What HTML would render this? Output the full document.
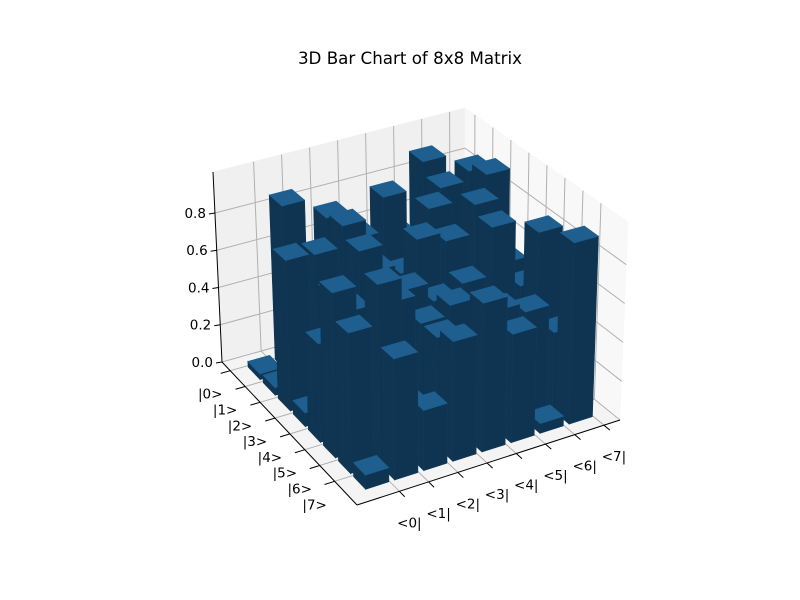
<!DOCTYPE html>
<html><head><meta charset="utf-8"><style>
html,body{margin:0;padding:0;background:#fff;}
svg{display:block;font-family:"DejaVu Sans","Liberation Sans",sans-serif;}
</style></head><body>
<svg id="chart" width="800" height="600" viewBox="0 0 800 600" xmlns="http://www.w3.org/2000/svg">
<rect width="800" height="600" fill="#ffffff"/>
<text x="410" y="64" font-size="16.7" text-anchor="middle" fill="#000">3D Bar Chart of 8x8 Matrix</text>
<g id="panes"></g><g id="grid"></g><g id="axes"></g><g id="bars"></g>
</svg>
<script>
const rowLabels = ['|0>','|1>','|2>','|3>','|4>','|5>','|6>','|7>'];
const colLabels = ['<0|','<1|','<2|','<3|','<4|','<5|','<6|','<7|'];
const zTicks = [0.0, 0.2, 0.4, 0.6, 0.8];
const row0 = [0.03,0.88,0.45,0.60,0.30,0.55,0.92,0.40];
const row1 = [0.04,0.60,0.85,0.70,0.88,0.20,0.85,0.90];
const row2 = [0.78,0.77,0.88,0.60,0.55,0.85,0.40,0.95];
const row3 = [0.07,0.63,0.82,0.10,0.80,0.75,0.90,0.55];
const row4 = [0.50,0.62,0.35,0.65,0.55,0.60,0.85,0.50];
const row5 = [0.83,0.45,0.70,0.55,0.60,0.55,0.20,0.85];
const row6 = [0.70,0.90,0.23,0.55,0.40,0.60,0.55,0.40];
const row7 = [0.07,0.60,0.30,0.60,0.75,0.55,0.05,0.93];
const values = [row0,row1,row2,row3,row4,row5,row6,row7];

const NS='http://www.w3.org/2000/svg';
const F={L:[222,362],B:[357,505],R:[620,420],K:[465,294]};
const T={L:[213,172],B:[354,296],R:[628,222],K:[465,108]};
const XMIN=-0.55,XMAX=8.5,YMIN=-1.45,YMAX=7.55,ZMAX=1.02;
function bil(C,u,v){
  const a=(1-u)*(1-v),b=u*(1-v),c=u*v,d=(1-u)*v;
  return [C.L[0]*a+C.B[0]*b+C.R[0]*c+C.K[0]*d, C.L[1]*a+C.B[1]*b+C.R[1]*c+C.K[1]*d];
}
function P(x,y,z){
  const u=(x-XMIN)/(XMAX-XMIN), v=(y-YMIN)/(YMAX-YMIN), w=z/ZMAX;
  const f=bil(F,u,v), t=bil(T,u,v);
  return [f[0]+(t[0]-f[0])*w, f[1]+(t[1]-f[1])*w];
}
function pts(a){return a.map(p=>p[0].toFixed(1)+','+p[1].toFixed(1)).join(' ');}
function poly(g,a,fill,stroke,name){
  const e=document.createElementNS(NS,'polygon');
  e.setAttribute('points',pts(a));e.setAttribute('fill',fill);
  e.setAttribute('stroke',stroke);e.setAttribute('stroke-width','0.6');
  
  
  g.appendChild(e);return e;
}
function line(g,a,b,col,w,name){
  const e=document.createElementNS(NS,'line');
  e.setAttribute('x1',a[0]);e.setAttribute('y1',a[1]);e.setAttribute('x2',b[0]);e.setAttribute('y2',b[1]);
  e.setAttribute('stroke',col);e.setAttribute('stroke-width',w);
  
  
  g.appendChild(e);
}
function text(g,p,s,anchor,name){
  const e=document.createElementNS(NS,'text');
  e.setAttribute('x',p[0]);e.setAttribute('y',p[1]);e.setAttribute('font-size','13.5');
  e.setAttribute('text-anchor',anchor);e.setAttribute('fill','#000');e.textContent=s;
  
  
  g.appendChild(e);
}
const gp=document.getElementById('panes'),gg=document.getElementById('grid'),ga=document.getElementById('axes'),gb=document.getElementById('bars');
poly(gp,[P(XMIN,YMIN,0),P(XMIN,YMAX,0),P(XMIN,YMAX,ZMAX),P(XMIN,YMIN,ZMAX)],'#f0f0f0','#f0f0f0','left-pane');
poly(gp,[P(XMIN,YMAX,0),P(XMAX,YMAX,0),P(XMAX,YMAX,ZMAX),P(XMIN,YMAX,ZMAX)],'#f8f8f8','#f8f8f8','right-pane');
poly(gp,[P(XMIN,YMIN,0),P(XMAX,YMIN,0),P(XMAX,YMAX,0),P(XMIN,YMAX,0)],'#f4f4f4','#f4f4f4','floor-pane');
const GC='#b0b0b0';
for(let i=0;i<8;i++){
  line(gg,P(i,YMIN,0),P(i,YMAX,0),GC,1,'floor-grid-x');
  line(gg,P(i,YMAX,0),P(i,YMAX,ZMAX),GC,1,'wall-grid-x');
}
for(let j=0;j<8;j++){
  line(gg,P(XMIN,j,0),P(XMAX,j,0),GC,1,'floor-grid-y');
  line(gg,P(XMIN,j,0),P(XMIN,j,ZMAX),GC,1,'wall-grid-y');
}
zTicks.forEach(z=>{
  line(gg,P(XMIN,YMIN,z),P(XMIN,YMAX,z),GC,1,'wall-grid-z');
  line(gg,P(XMIN,YMAX,z),P(XMAX,YMAX,z),GC,1,'wall-grid-z');
});
line(ga,P(XMIN,YMIN,0),P(XMAX,YMIN,0),'#000',1,'x-axis-line');
line(ga,P(XMAX,YMIN,0),P(XMAX,YMAX,0),'#000',1,'y-axis-line');
line(ga,P(XMIN,YMIN,0),P(XMIN,YMIN,ZMAX),'#000',1,'z-axis-line');
rowLabels.forEach((s,i)=>{
  const a=P(i,YMIN,0),b=P(i,YMIN-0.35,0);
  line(ga,a,b,'#000',1,'x-tick');
  text(ga,[a[0]-20,a[1]+28],s,'middle','x-tick-label');
});
colLabels.forEach((s,j)=>{
  const a=P(XMAX,j,0),b=P(XMAX+0.35,j,0);
  line(ga,a,b,'#000',1,'y-tick');
  text(ga,[a[0]+10,a[1]+36],s,'middle','y-tick-label');
});
zTicks.forEach(z=>{
  const a=P(XMIN,YMIN,z);
  line(ga,a,[a[0]-6,a[1]+1],'#000',1,'z-tick');
  text(ga,[a[0]-9,a[1]+5],z.toFixed(1),'end','z-tick-label');
});
const order=[];
for(let i=0;i<8;i++)for(let j=0;j<8;j++)order.push([i,j]);
order.sort((a,b)=>(a[0]-a[1])-(b[0]-b[1]) || (a[0]-b[0]));
const BW=0.8, OX=0.07, OY=-0.83;
order.forEach(([i,j])=>{
  const h=values[i][j];
  const x0=i+OX,x1=x0+BW,y0=j+OY,y1=y0+BW;
  const g=document.createElementNS(NS,'g');
  
  
  poly(g,[P(x0,y0,0),P(x1,y0,0),P(x1,y0,h),P(x0,y0,h)],'#0f3553','#0f3553','bar-side');
  poly(g,[P(x1,y0,0),P(x1,y1,0),P(x1,y1,h),P(x1,y0,h)],'#0e3451','#113a5a','bar-side');
  poly(g,[P(x0,y0,h),P(x1,y0,h),P(x1,y1,h),P(x0,y1,h)],'#1f5f8f','#1f5f8f','bar-top');
  gb.appendChild(g);
});
</script>
</body></html>
